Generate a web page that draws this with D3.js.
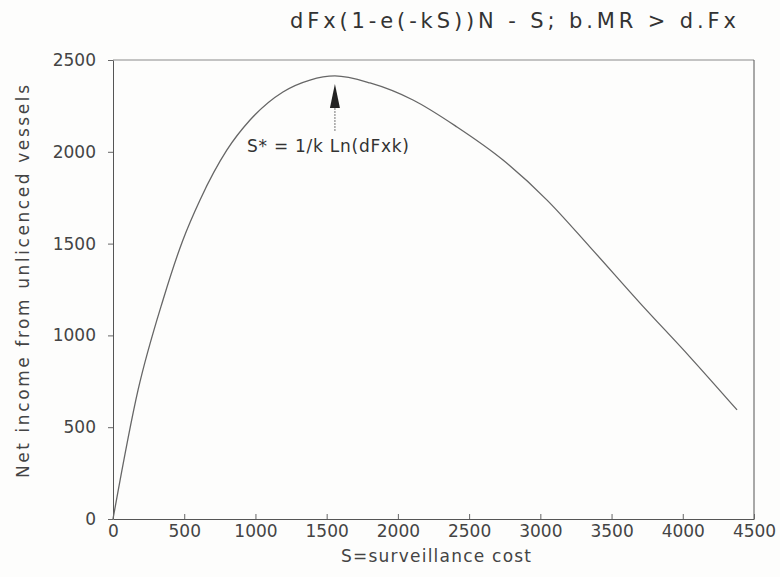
<!DOCTYPE html>
<html>
<head>
<meta charset="utf-8">
<script src="https://cdn.jsdelivr.net/npm/d3@7"></script>
<style>
  body { margin: 0; background: #fdfdfc; }
  svg { font-family: "DejaVu Sans", "Liberation Sans", sans-serif; }
</style>
</head>
<body>
<svg width="780" height="577"></svg>
<script>
// values
var costS = [0, 176, 351, 491, 611, 800, 962, 1193, 1383, 1558, 1804, 2106, 2415, 2738, 3047, 3349, 3700, 4051, 4381];
var netIncome = [0, 703, 1193, 1520, 1738, 2010, 2173, 2326, 2391, 2413, 2375, 2282, 2135, 1955, 1737, 1481, 1176, 882, 594];
var xTicks = [0, 500, 1000, 1500, 2000, 2500, 3000, 3500, 4000, 4500];
var yTicks = [0, 500, 1000, 1500, 2000, 2500];
var peakS = 1558;

var svg = d3.select("svg");
var mLeft = 113, mRight = 754, mTop = 60, mBottom = 519;

var x = d3.scaleLinear().domain([0, 4500]).range([mLeft, mRight]);
var y = d3.scaleLinear().domain([0, 2500]).range([mBottom, mTop]);

// frame (top + right)
svg.append("line").attr("x1", mLeft).attr("x2", mRight).attr("y1", mTop).attr("y2", mTop)
   .attr("stroke", "#8a8a8a").attr("stroke-width", 1);
svg.append("line").attr("x1", mRight).attr("x2", mRight).attr("y1", mTop).attr("y2", mBottom)
   .attr("stroke", "#555").attr("stroke-width", 1);

// x axis, ticks pointing up into the plot
var xAxis = svg.append("g").attr("transform", "translate(0," + mBottom + ")")
   .call(d3.axisBottom(x).tickValues(xTicks).tickSizeInner(-5).tickSizeOuter(0).tickPadding(6).tickFormat(d3.format("d")));

// y axis, ticks pointing out
var yAxis = svg.append("g").attr("transform", "translate(" + mLeft + ",0)")
   .call(d3.axisLeft(y).tickValues(yTicks).tickSizeInner(5).tickSizeOuter(0).tickPadding(12).tickFormat(d3.format("d")));

[xAxis, yAxis].forEach(function(a){
  a.select(".domain").attr("stroke", "#555");
  a.selectAll(".tick line").attr("stroke", "#666");
  a.selectAll("text").attr("fill", "#444").style("font-size", "17px").style("font-family", "DejaVu Sans, sans-serif");
});

// the curve
var pts = costS.map(function(s, i){ return [s, netIncome[i]]; });
var line = d3.line().x(function(d){ return x(d[0]); }).y(function(d){ return y(d[1]); }).curve(d3.curveMonotoneX);
svg.append("path").datum(pts).attr("d", line)
   .attr("fill", "none").attr("stroke", "#666").attr("stroke-width", 1.3);

// arrow to the maximum
var ax = x(peakS);
svg.append("line").attr("x1", ax).attr("x2", ax).attr("y1", 131).attr("y2", 104)
   .attr("stroke", "#777").attr("stroke-width", 1).attr("stroke-dasharray", "2,1");
svg.append("path").attr("d", "M" + (ax - 5) + ",108 L" + ax + ",84 L" + (ax + 5) + ",108 Z").attr("fill", "#222");

svg.append("text").attr("x", 247).attr("y", 152).attr("fill", "#333").style("font-size", "17px")
   .attr("textLength", 162).attr("lengthAdjust", "spacing")
   .text("S* = 1/k Ln(dFxk)");

// title
svg.append("text").attr("x", 290).attr("y", 28).attr("fill", "#333").style("font-size", "21px")
   .attr("textLength", 446).attr("lengthAdjust", "spacing")
   .text("dFx(1-e(-kS))N - S;  b.MR > d.Fx");

// axis titles
svg.append("text").attr("x", 341).attr("y", 562).attr("fill", "#444").style("font-size", "17px")
   .attr("textLength", 190).attr("lengthAdjust", "spacing")
   .text("S=surveillance cost");

svg.append("text").attr("transform", "translate(29,478) rotate(-90)").attr("fill", "#444").style("font-size", "17px")
   .attr("textLength", 393).attr("lengthAdjust", "spacing")
   .text("Net income from unlicenced vessels");
</script>
</body>
</html>
